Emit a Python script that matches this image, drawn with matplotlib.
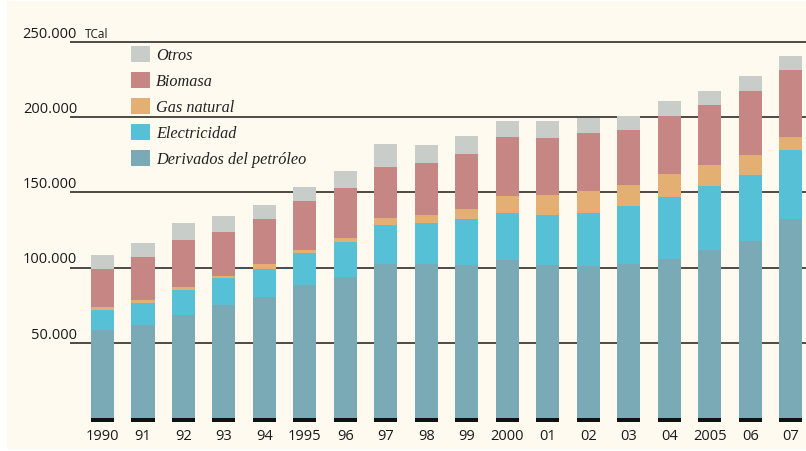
import matplotlib
matplotlib.use("Agg")
import matplotlib.pyplot as plt
from matplotlib.patches import Patch, Rectangle
import numpy as np

years = ["1990", "91", "92", "93", "94", "1995", "96", "97", "98", "99",
         "2000", "01", "02", "03", "04", "2005", "06", "07"]
derivados = [58.7, 62.0, 68.7, 75.3, 80.7, 88.7, 94.0, 102.7, 102.7, 102.0,
             105.3, 102.0, 101.3, 102.2, 106.0, 112.0, 118.0, 132.0]
electricidad = [13.3, 14.4, 16.7, 18.0, 18.7, 21.3, 22.7, 25.3, 26.7, 30.0,
                31.3, 33.3, 35.3, 38.7, 40.7, 42.0, 43.3, 46.0]
gas_natural = [2.0, 2.2, 1.6, 1.3, 2.7, 2.0, 2.7, 4.7, 5.3, 6.7,
               11.3, 12.7, 14.0, 13.8, 15.3, 14.0, 13.3, 8.7]
biomasa = [25.3, 28.7, 31.1, 29.3, 30.0, 32.0, 33.3, 34.0, 34.7, 36.7,
           38.7, 38.0, 38.7, 36.7, 38.7, 40.0, 42.7, 44.7]
otros = [9.3, 9.3, 11.3, 10.7, 9.3, 9.3, 11.3, 15.3, 12.0, 12.0,
         10.7, 11.3, 10.0, 9.3, 10.0, 9.3, 10.0, 9.3]

series_names = ["Derivados del petróleo", "Electricidad", "Gas natural", "Biomasa", "Otros"]
series_vals = [derivados, electricidad, gas_natural, biomasa, otros]
colors = ["#7AAAB5", "#55C0D6", "#E3AF73", "#C68684", "#C9CDCA"]

yticks = [50000, 100000, 150000, 200000, 250000]
ytick_labels = ["50.000", "100.000", "150.000", "200.000", "250.000"]

bg = "#FEFAEF"
W, H = 806, 451
fig = plt.figure(figsize=(W / 100, H / 100), dpi=100)
fig.patch.set_facecolor("white")
fig.patches.append(Rectangle((7 / W, 2 / H), 1 - 7 / W, 1 - 3 / H,
                             transform=fig.transFigure, facecolor=bg,
                             edgecolor="none", zorder=-10))

ymin, ymax = -2700, 262000
ax = fig.add_axes([70 / W, (451 - 422.06) / H, (806 - 70) / W, (422.06 - 23.95) / H])
ax.set_facecolor(bg)
ax.patch.set_alpha(0)

x = np.arange(len(years))
bw = 0.57
bottom = np.zeros(len(years))
for name, vals, c in zip(series_names, series_vals, colors):
    v = np.array(vals) * 1000
    ax.bar(x, v, bw, bottom=bottom, color=c, edgecolor="none", zorder=3, label=name)
    bottom += v
# black base strips
ax.bar(x, [2400] * len(years), bw, bottom=-2500, color="#111111", edgecolor="none", zorder=3)

for yt, lab in zip(yticks, ytick_labels):
    ax.axhline(yt, color="#4d4a45", linewidth=1.4, zorder=1)
    ax.annotate(lab, xy=(-0.63, yt), xytext=(0, 3), textcoords="offset points",
                ha="right", va="baseline", fontsize=10.5, family="Open Sans",
                color="#1a1a1a", annotation_clip=False)
ax.annotate("TCal", xy=(-0.44, 250000), xytext=(0, 3), textcoords="offset points",
            ha="left", va="baseline", fontsize=8.5, family="Open Sans",
            color="#1a1a1a", annotation_clip=False)

ax.set_xlim(-0.803, 17.38)
ax.set_ylim(ymin, ymax)
ax.set_xticks(x)
ax.set_xticklabels(years, fontsize=10.5, family="Open Sans", color="#1a1a1a")
ax.tick_params(axis="x", length=0, pad=5)
ax.set_yticks([])
for s in ax.spines.values():
    s.set_visible(False)

handles = [Patch(facecolor=c, edgecolor="none") for c in colors][::-1]
labels = series_names[::-1]
leg = ax.legend(handles, labels, loc="upper left",
                bbox_to_anchor=(131 / W, (451 - 46) / H), bbox_transform=fig.transFigure,
                frameon=False, borderpad=0, borderaxespad=0,
                handlelength=1.15, handleheight=1.15, handletextpad=0.4,
                labelspacing=0.52,
                prop={"family": "Liberation Serif", "style": "italic", "size": 11.7})
for t in leg.get_texts():
    t.set_color("#222222")

fig.savefig("out.png", dpi=100, facecolor=fig.get_facecolor())
